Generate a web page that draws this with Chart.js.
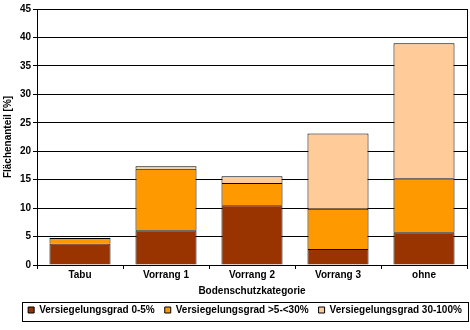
<!DOCTYPE html>
<html lang="de">
<head>
    <meta charset="UTF-8">
    <title>Versiegelungsgrad nach Bodenschutzkategorie</title>
    <script src="https://cdn.jsdelivr.net/npm/chart.js"></script>
    <style>
        html, body { margin: 0; padding: 0; background: #fff; }
        #wrap { width: 470px; height: 330px; }
    </style>
</head>
<body>
<div id="wrap"><canvas id="chart"></canvas></div>
<script>
    // Flächenanteil [%] je Bodenschutzkategorie
    const categories = ['Tabu', 'Vorrang 1', 'Vorrang 2', 'Vorrang 3', 'ohne'];
    const grad0to5 = [3.8, 6.1, 10.5, 2.8, 5.75];
    const grad5to30 = [0.95, 10.8, 3.9, 7.1, 9.5];
    const grad30to100 = [0.05, 0.45, 1.2, 13.2, 23.75];
    const yTicks = [0, 5, 10, 15, 20, 25, 30, 35, 40, 45];

    Chart.defaults.font.family = '"Liberation Sans", Arial, sans-serif';
    Chart.defaults.font.size = 10;
    Chart.defaults.font.weight = 'bold';
    Chart.defaults.color = '#000';

    const PLOT_BOTTOM = 265;
    const LEGEND_TOP = 295;

    // Legende etwas nach rechts/unten setzen und einrahmen
    const legendBox = {
        id: 'legendBox',
        afterLayout(chart) {
            const l = chart.legend;
            if (!l) return;
            const h = l.height;
            l.left += 10;
            l.right += 10;
            l.top = LEGEND_TOP;
            l.bottom = LEGEND_TOP + h;
        },
        afterDraw(chart) {
            const boxes = chart.legend && chart.legend.legendHitBoxes;
            if (!boxes || !boxes.length) return;
            const left = Math.min(...boxes.map(b => b.left)) - 6;
            const right = Math.max(...boxes.map(b => b.left + b.width)) + 6;
            const top = Math.min(...boxes.map(b => b.top)) - 3;
            const bottom = top + 19;
            const ctx = chart.ctx;
            ctx.save();
            ctx.strokeStyle = '#000';
            ctx.lineWidth = 1;
            ctx.strokeRect(Math.round(left) + 0.5, Math.round(top) + 0.5,
                Math.round(right - left), Math.round(bottom - top));
            ctx.restore();
        }
    };

    const ds = (label, data, color) => ({
        label: label,
        data: data,
        backgroundColor: color,
        borderColor: '#000',
        borderWidth: 1,
        categoryPercentage: 0.71,
        barPercentage: 1.0
    });

    new Chart(document.getElementById('chart'), {
        type: 'bar',
        data: {
            labels: categories,
            datasets: [
                ds('Versiegelungsgrad 0-5%', grad0to5, '#993300'),
                ds('Versiegelungsgrad >5-<30%', grad5to30, '#FF9900'),
                ds('Versiegelungsgrad 30-100%', grad30to100, '#FFCC99')
            ]
        },
        options: {
            responsive: true,
            maintainAspectRatio: false,
            animation: false,
            layout: { padding: { top: 9, left: 0, right: 0, bottom: 0 } },
            plugins: {
                tooltip: { enabled: false },
                legend: {
                    position: 'bottom',
                    labels: { boxWidth: 6, boxHeight: 6, padding: 10, color: '#000', font: { size: 10, weight: 'bold' } }
                }
            },
            scales: {
                x: {
                    stacked: true,
                    grid: { offset: true, drawOnChartArea: false, tickLength: 4, color: '#000' },
                    border: { color: '#000' },
                    ticks: { padding: 0, maxRotation: 0 },
                    title: { display: true, text: 'Bodenschutzkategorie', padding: { top: 0, bottom: 3 } },
                    afterFit: s => {
                        const lh = s.chart.legend ? s.chart.legend.height : 0;
                        s.height = s.chart.height - lh - PLOT_BOTTOM;
                    }
                },
                y: {
                    stacked: true,
                    min: 0,
                    max: 45,
                    afterBuildTicks: s => { s.ticks = yTicks.map(v => ({ value: v })); },
                    grid: { color: '#000', tickLength: 4 },
                    border: { color: '#000' },
                    ticks: { padding: 2 },
                    title: { display: true, text: 'Flächenanteil [%]', padding: { top: 2, bottom: 0 } },
                    afterFit: s => { s.width = 37; }
                },
                y2: {
                    position: 'right',
                    min: 0,
                    max: 45,
                    grid: { drawOnChartArea: false, drawTicks: false },
                    border: { color: '#000' },
                    ticks: { display: false },
                    afterFit: s => { s.width = 3; }
                }
            }
        },
        plugins: [legendBox]
    });
</script>
</body>
</html>
